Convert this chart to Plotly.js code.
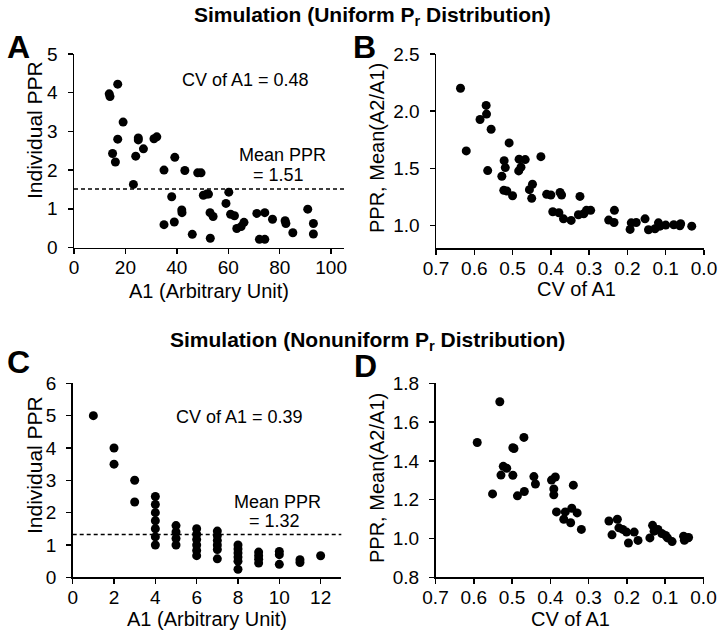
<!DOCTYPE html>
<html>
<head>
<meta charset="utf-8">
<script src="https://cdn.plot.ly/plotly-3.0.1.min.js"></script>
<style>html,body{margin:0;padding:0;background:#fff;}#chart{width:720px;height:640px;}</style>
</head>
<body>
<div id="chart"></div>
<script>
// Panel A: uniform Pr, individual PPR vs A1
const aX = [13.7,14.0,17.0,19.1,15.0,17.0,16.1,25.0,25.0,27.0,24.0,23.1,31.1,32.2,39.2,35.0,43.1,48.1,49.4,38.0,35.0,39.0,41.9,42.0,46.0,50.3,51.6,52.3,52.9,54.1,53.0,60.2,59.1,60.9,62.4,63.3,65.0,66.1,71.1,74.2,72.1,74.2,77.2,82.1,82.4,85.1,90.9,93.1,93.1];
const aY = [3.97,3.90,4.22,3.24,2.43,2.80,2.21,2.83,2.78,2.55,2.36,1.63,2.81,2.86,2.33,2.00,1.99,1.93,1.93,1.31,0.59,0.66,0.97,0.90,0.34,1.35,1.38,1.38,0.90,0.80,0.24,1.43,1.14,0.86,0.82,0.49,0.54,0.65,0.88,0.90,0.21,0.21,0.73,0.69,0.62,0.38,0.99,0.62,0.35];
const meanA = 1.51;
const cvA = "0.48";

// Panel B: uniform Pr, mean PPR vs CV of A1
const bX = [0.636,0.621,0.569,0.568,0.585,0.556,0.565,0.509,0.522,0.519,0.528,0.523,0.515,0.500,0.483,0.467,0.478,0.484,0.426,0.448,0.456,0.450,0.411,0.400,0.395,0.379,0.376,0.372,0.367,0.347,0.324,0.328,0.314,0.307,0.296,0.249,0.234,0.235,0.193,0.190,0.177,0.154,0.145,0.128,0.119,0.115,0.100,0.079,0.063,0.061,0.032];
const bY = [2.20,1.652,2.05,1.974,1.927,1.842,1.48,1.722,1.567,1.506,1.43,1.307,1.301,1.26,1.58,1.576,1.51,1.477,1.602,1.36,1.313,1.237,1.272,1.266,1.12,1.111,1.289,1.266,1.058,1.044,1.254,1.094,1.102,1.132,1.132,1.047,1.132,1.026,0.965,1.023,1.026,1.058,0.962,0.971,1.023,0.994,1.003,1.006,0.997,1.015,0.994];

// Panel C: nonuniform Pr, individual PPR vs A1
const cX = [1,2,2,3,3,4,4,4,4,4,4,4,5,5,5,5,6,6,6,6,6,6,7,7,7,7,7,7,8,8,8,8,8,8,9,9,9,9,10,10,10,11,11,12];
const cY = [5.0,4.0,3.5,3.0,2.33,2.5,2.25,2.0,1.75,1.5,1.25,1.0,1.6,1.4,1.2,1.0,1.5,1.33,1.17,1.0,0.83,0.67,1.43,1.29,1.14,1.0,0.86,0.57,1.0,0.875,0.75,0.625,0.5,0.25,0.78,0.67,0.56,0.44,0.8,0.7,0.4,0.545,0.455,0.667];
const meanC = 1.32;
const cvC = "0.39";

// Panel D: nonuniform Pr, mean PPR vs CV of A1
const dX = [0.591,0.532,0.469,0.498,0.495,0.523,0.514,0.529,0.498,0.551,0.486,0.468,0.443,0.439,0.397,0.387,0.391,0.391,0.384,0.361,0.365,0.347,0.340,0.344,0.330,0.319,0.247,0.239,0.225,0.221,0.211,0.201,0.196,0.181,0.171,0.140,0.133,0.129,0.119,0.109,0.099,0.094,0.082,0.052,0.050,0.042,0.039];
const dY = [1.495,1.705,1.521,1.468,1.464,1.372,1.362,1.327,1.326,1.230,1.220,1.242,1.319,1.281,1.301,1.317,1.255,1.225,1.137,1.137,1.099,1.081,1.275,1.156,1.132,1.047,1.090,1.019,1.099,1.055,1.047,1.033,0.977,1.033,0.990,1.003,1.068,1.038,1.047,1.026,1.016,1.003,0.984,1.012,0.991,1.002,1.005];

const aTicks = [0,20,40,60,80,100];
const cTicks = [0,2,4,6,8,10,12];
const cvTicks = [0.7,0.6,0.5,0.4,0.3,0.2,0.1,0.0];
const bYTicks = [1.0,1.5,2.0,2.5];
const dYTicks = [0.8,1.0,1.2,1.4,1.6,1.8];

const FONT = "Liberation Sans, Arial, Helvetica, sans-serif";
const mk = {color:'#000', size:9};
function tr(x,y,xa,ya){return {x:x,y:y,xaxis:xa,yaxis:ya,type:'scatter',mode:'markers',marker:mk,showlegend:false,hoverinfo:'x+y'};}
const data = [tr(aX,aY,'x','y'),tr(bX,bY,'x2','y2'),tr(cX,cY,'x3','y3'),tr(dX,dY,'x4','y4')];

const W=720,H=640;
const px = v=>v/W, py = v=>1-v/H;
function ax(domain, range, extra){
  return Object.assign({domain:domain, range:range, showline:true, linecolor:'#000', linewidth:1.5,
    ticks:'outside', ticklen:5, tickwidth:1.5, tickcolor:'#000', showgrid:false, zeroline:false,
    tickfont:{family:FONT,size:19,color:'#000'}, fixedrange:true}, extra);
}
const XS = -3, YS = 6;
const layout = {
  width:W, height:H, margin:{l:0,r:0,t:0,b:0}, paper_bgcolor:'#fff', plot_bgcolor:'#fff',
  font:{family:FONT,color:'#000'}, showlegend:false,
  xaxis: ax([px(74),px(344)],[0,105],{anchor:'y',tickvals:aTicks,ticklabelstandoff:XS}),
  yaxis: ax([py(247.5),py(54)],[0,5],{anchor:'x',dtick:1,ticklabelstandoff:YS}),
  xaxis2: ax([px(436),px(704)],[0.7,0],{anchor:'y2',tickvals:cvTicks,tickformat:'.1f',ticklabelstandoff:XS}),
  yaxis2: ax([py(248.3),py(54)],[0.8,2.5],{anchor:'x2',tickvals:bYTicks,tickformat:'.1f',ticklabelstandoff:YS}),
  xaxis3: ax([px(72.7),px(341.3)],[0,13],{anchor:'y3',tickvals:cTicks,ticklabelstandoff:XS}),
  yaxis3: ax([py(577.3),py(383.3)],[0,6],{anchor:'x3',dtick:1,ticklabelstandoff:YS}),
  xaxis4: ax([px(435.5),px(703.5)],[0.7,0],{anchor:'y4',tickvals:cvTicks,tickformat:'.1f',ticklabelstandoff:XS}),
  yaxis4: ax([py(577.3),py(383.3)],[0.8,1.8],{anchor:'x4',tickvals:dYTicks,tickformat:'.1f',ticklabelstandoff:YS}),
  shapes: [
    {type:'line',xref:'x domain',yref:'y',x0:0,x1:1,y0:meanA,y1:meanA,line:{color:'#000',width:1.5,dash:'4px,3px'}},
    {type:'line',xref:'x3 domain',yref:'y3',x0:0,x1:1,y0:meanC,y1:meanC,line:{color:'#000',width:1.5,dash:'4px,3px'}}
  ],
  annotations: []
};
const A = layout.annotations;
function ann(text,x,y,opt){A.push(Object.assign({text:text,x:x,y:y,xref:'paper',yref:'paper',showarrow:false,xanchor:'center',yanchor:'middle',font:{family:FONT,size:18,color:'#000'}},opt||{}));}
// titles
ann('<b>Simulation (Uniform P<sub>r</sub> Distribution)</b>', px(372), py(16), {font:{family:FONT,size:21,color:'#000'}});
ann('<b>Simulation (Nonuniform P<sub>r</sub> Distribution)</b>', px(367), py(341), {font:{family:FONT,size:21,color:'#000'}});
// panel letters
ann('<b>A</b>', px(18), py(47), {font:{family:FONT,size:32,color:'#000'}});
ann('<b>B</b>', px(364), py(47), {font:{family:FONT,size:32,color:'#000'}});
ann('<b>C</b>', px(18), py(362), {font:{family:FONT,size:32,color:'#000'}});
ann('<b>D</b>', px(365), py(366), {font:{family:FONT,size:32,color:'#000'}});
// axis titles
const xt = {font:{family:FONT,size:20,color:'#000'}};
const yt = {font:{family:FONT,size:21,color:'#000'},textangle:-90};
ann('A1 (Arbitrary Unit)', px(209), py(291), xt);
ann('CV of A1', px(576), py(289), xt);
ann('A1 (Arbitrary Unit)', px(207), py(619), xt);
ann('CV of A1', px(570), py(619), xt);
ann('Individual PPR', px(34), py(130), yt);
ann('PPR, Mean(A2/A1)', px(377), py(148), {font:{family:FONT,size:20,color:'#000'},textangle:-90});
ann('Individual PPR', px(34), py(465), yt);
ann('PPR, Mean(A2/A1)', px(377), py(478), {font:{family:FONT,size:20,color:'#000'},textangle:-90});
// in-panel notes (data coordinates)
const nf = {family:FONT,size:18,color:'#000'};
A.push({text:'CV of A1 = '+cvA, x:66.6, y:4.33, xref:'x', yref:'y', showarrow:false, font:nf});
A.push({text:'Mean PPR', x:81.2, y:2.39, xref:'x', yref:'y', showarrow:false, font:nf});
A.push({text:'= '+meanA.toFixed(2), x:79.5, y:1.87, xref:'x', yref:'y', showarrow:false, font:nf});
A.push({text:'CV of A1 = '+cvC, x:8.05, y:4.96, xref:'x3', yref:'y3', showarrow:false, font:nf});
A.push({text:'Mean PPR', x:9.93, y:2.33, xref:'x3', yref:'y3', showarrow:false, font:nf});
A.push({text:'= '+meanC.toFixed(2), x:9.79, y:1.74, xref:'x3', yref:'y3', showarrow:false, font:nf});

Plotly.newPlot('chart', data, layout, {staticPlot:true, displayModeBar:false});
</script>
</body>
</html>
